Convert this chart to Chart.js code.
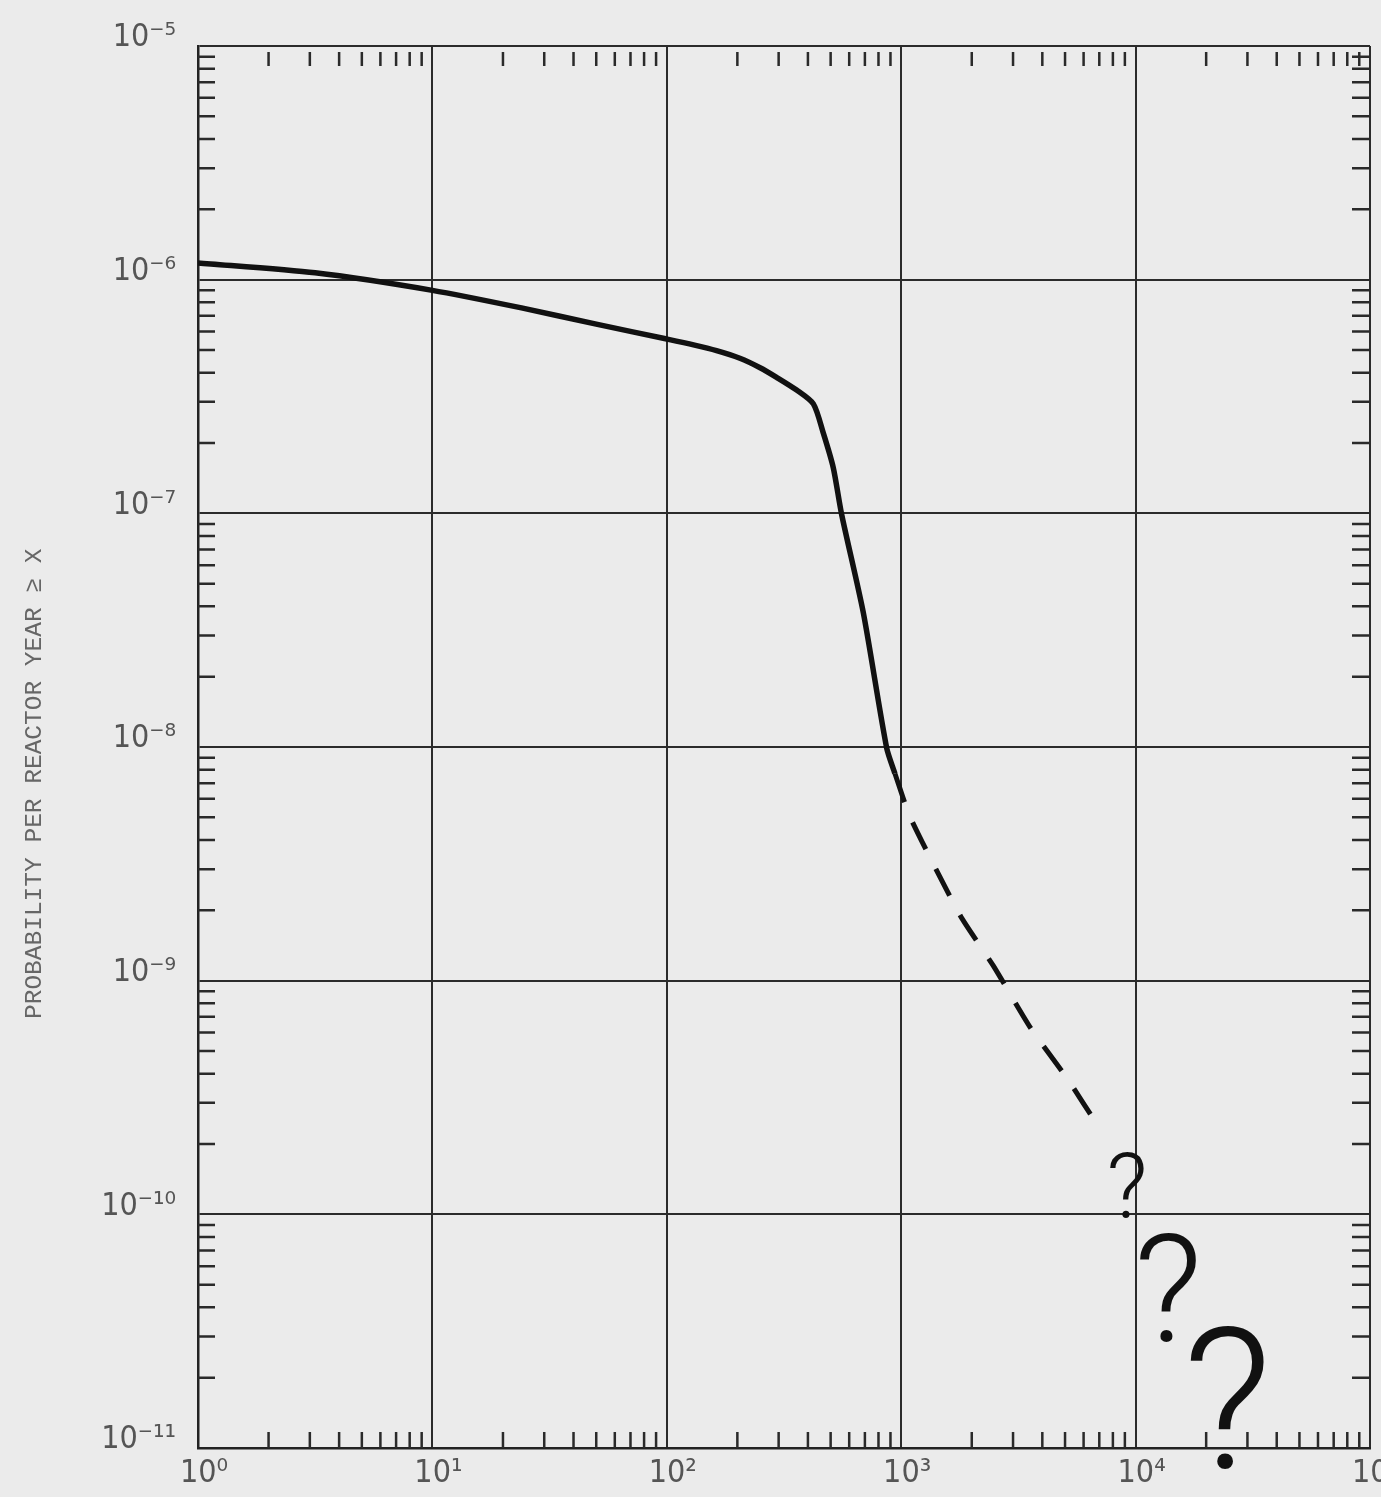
<!DOCTYPE html>
<html>
<head>
<meta charset="utf-8">
<script src="https://cdn.jsdelivr.net/npm/chart.js@4.4.0/dist/chart.umd.min.js"></script>
<style>
body { margin: 0; background: #ebebeb; }
#wrap { width: 1381px; height: 1497px; position: relative; }
</style>
</head>
<body>
<div id="wrap"><canvas id="myChart"></canvas></div>
<script>
// decades on the axes
const xDecades = [1, 10, 100, 1000, 10000, 100000];
const yDecades = [1e-11, 1e-10, 1e-9, 1e-8, 1e-7, 1e-6, 1e-5];
const minorSteps = [2, 3, 4, 5, 6, 7, 8, 9];

// solid curve
const solidX = [1, 3.16, 10, 24, 50, 100, 130, 163, 205, 250, 294, 358, 422, 465, 513, 557, 689, 867, 940];
const solidY = [1.18e-6, 1.07e-6, 9.0e-7, 7.57e-7, 6.45e-7, 5.57e-7, 5.26e-7, 4.97e-7, 4.61e-7, 4.2e-7, 3.82e-7, 3.37e-7, 2.94e-7, 2.21e-7, 1.57e-7, 9.9e-8, 3.76e-8, 9.9e-9, 7.7e-9];

// dashed extrapolation
const dashX = [940, 1093, 1786, 2470, 3556, 5117, 7080];
const dashY = [7.7e-9, 5.0e-9, 1.9e-9, 1.16e-9, 6.3e-10, 3.8e-10, 2.3e-10];

// hand drawn question marks (position of the dot)
const qX = [8630, 12400, 21500];
const qY = [1.0e-10, 3.0e-11, 8.5e-12];

const supMap = {'-': '\u207B', '0': '\u2070', '1': '\u00B9', '2': '\u00B2', '3': '\u00B3',
  '4': '\u2074', '5': '\u2075', '6': '\u2076', '7': '\u2077', '8': '\u2078', '9': '\u2079'};
const sup = n => String(n).split('').map(c => supMap[c]).join('');
const decLabel = v => '10' + sup(Math.round(Math.log10(v)));

const toPts = (xs, ys) => xs.map((x, i) => ({x: x, y: ys[i]}));

const minorTicks = {
  id: 'minorTicks',
  beforeDatasetsDraw(chart) {
    const {ctx, chartArea: a, scales: {x, y}} = chart;
    ctx.save();
    ctx.strokeStyle = '#2a2a2a';
    ctx.lineWidth = 2.5;
    ctx.beginPath();
    for (let i = 0; i < xDecades.length - 1; i++) {
      minorSteps.forEach(m => {
        const px = x.getPixelForValue(xDecades[i] * m);
        ctx.moveTo(px, a.top + 6); ctx.lineTo(px, a.top + 20);
        ctx.moveTo(px, a.bottom); ctx.lineTo(px, a.bottom - 16);
      });
    }
    for (let i = 0; i < yDecades.length - 1; i++) {
      minorSteps.forEach(m => {
        const py = y.getPixelForValue(yDecades[i] * m);
        ctx.moveTo(a.left, py); ctx.lineTo(a.left + 17, py);
        ctx.moveTo(a.right, py); ctx.lineTo(a.right - 18, py);
      });
    }
    ctx.stroke();
    ctx.restore();
  }
};

const questionMarks = {
  id: 'questionMarks',
  afterDraw(chart) {
    const {ctx, scales: {x, y}} = chart;
    const sizes = [90, 150, 196];
    ctx.save();
    ctx.fillStyle = '#111';
    ctx.textAlign = 'center';
    ctx.textBaseline = 'alphabetic';
    qX.forEach((v, i) => {
      const px = x.getPixelForValue(v);
      const py = y.getPixelForValue(qY[i]);
      ctx.font = '300 ' + sizes[i] + 'px Roboto, "Liberation Sans", sans-serif';
      ctx.fillText('?', px + sizes[i] * 0.07, py + 4);
    });
    ctx.restore();
  }
};

const ctx = document.getElementById('myChart').getContext('2d');
const myChart = new Chart(ctx, {
  type: 'scatter',
  data: {
    datasets: [{
      data: toPts(solidX, solidY),
      showLine: true,
      borderColor: '#111',
      borderWidth: 5.5,
      pointRadius: 0,
      tension: 0.25
    }, {
      data: toPts(dashX, dashY),
      showLine: true,
      borderColor: '#111',
      borderWidth: 5,
      borderDash: [30, 22],
      pointRadius: 0,
      tension: 0.2
    }]
  },
  options: {
    responsive: true,
    maintainAspectRatio: false,
    animation: false,
    layout: { padding: { top: 46, right: 11, left: 0, bottom: 0 } },
    plugins: { legend: { display: false }, tooltip: { enabled: false } },
    scales: {
      x: {
        type: 'logarithmic',
        min: 1,
        max: 100000,
        afterBuildTicks: s => { s.ticks = xDecades.map(v => ({value: v})); },
        afterFit: s => { s.height = 49; s.paddingLeft = 0; s.paddingRight = 0; },
        ticks: {
          callback: v => decLabel(v),
          autoSkip: false,
          maxRotation: 0,
          padding: 6,
          labelOffset: 6,
          color: '#555',
          font: { family: '"Liberation Sans Narrow", "DejaVu Sans Condensed", sans-serif', size: 32 }
        },
        grid: { color: '#2b2b2b', lineWidth: 2, drawTicks: false },
        border: { display: true, color: '#222', width: 2.5 }
      },
      y: {
        type: 'logarithmic',
        min: 1e-11,
        max: 1e-5,
        afterBuildTicks: s => { s.ticks = yDecades.map(v => ({value: v})); },
        afterFit: s => { s.width = 198; s.paddingTop = 0; s.paddingBottom = 0; },
        ticks: {
          callback: v => decLabel(v),
          autoSkip: false,
          padding: 22,
          labelOffset: -8,
          color: '#555',
          font: { family: '"Liberation Sans Narrow", "DejaVu Sans Condensed", sans-serif', size: 32 }
        },
        grid: { color: '#2b2b2b', lineWidth: 2, drawTicks: false },
        border: { display: true, color: '#222', width: 2.5 },
        title: {
          display: true,
          text: 'PROBABILITY PER REACTOR YEAR \u2265 X     ',
          color: '#666',
          font: { family: '"Liberation Mono", "DejaVu Sans Mono", monospace', size: 24.5 },
          padding: { top: 20, bottom: 0 }
        }
      }
    }
  },
  plugins: [minorTicks, questionMarks]
});
</script>
</body>
</html>
